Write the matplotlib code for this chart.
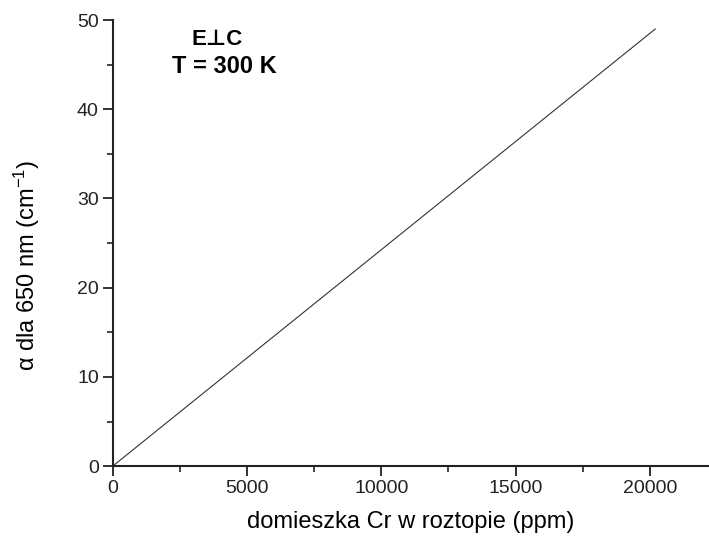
import matplotlib
matplotlib.use("Agg")
import matplotlib.pyplot as plt
from matplotlib.ticker import MultipleLocator

plt.rcParams['font.family'] = ['Liberation Sans', 'DejaVu Sans']
plt.rcParams['mathtext.fontset'] = 'custom'
plt.rcParams['mathtext.rm'] = 'Liberation Sans'
plt.rcParams['mathtext.default'] = 'regular'

# linear dependence: absorption at 650 nm vs Cr content in melt
cr_ppm = [0, 20200]
alpha = [0, 49.0]

xticks = [0, 5000, 10000, 15000, 20000]
yticks = [0, 10, 20, 30, 40, 50]


def main():
    fig = plt.figure(figsize=(7.09, 5.42), dpi=100)
    ax = fig.add_axes([0.159, 0.140, 0.841, 0.823])

    ax.plot(cr_ppm, alpha, color="#333333", lw=0.8)

    ax.set_xlim(0, 22200)
    ax.set_ylim(0, 50)
    ax.set_xticks(xticks)
    ax.set_yticks(yticks)
    ax.xaxis.set_minor_locator(MultipleLocator(2500))
    ax.yaxis.set_minor_locator(MultipleLocator(5))

    for s in ["top", "right"]:
        ax.spines[s].set_visible(False)
    for s in ["left", "bottom"]:
        ax.spines[s].set_linewidth(1.5)
        ax.spines[s].set_color("#222222")

    ax.tick_params(which="major", direction="out", length=7, width=1.3,
                   labelsize=14, colors="#222222", pad=3)
    ax.tick_params(which="minor", direction="out", length=4, width=1.2,
                   colors="#222222")

    ax.set_xlabel("domieszka Cr w roztopie (ppm)", fontsize=17, labelpad=10)
    ax.set_ylabel("α dla 650 nm (cm$^{-1}$)", fontsize=17)
    ax.yaxis.set_label_coords(-0.119, 0.45)

    ax.text(0.175, 0.957, "E⊥C", transform=ax.transAxes, ha="center",
            va="center", fontsize=16, fontweight="bold")
    ax.text(0.187, 0.896, "T = 300 K", transform=ax.transAxes, ha="center",
            va="center", fontsize=17, fontweight="bold")

    fig.savefig("out.png", dpi=100)


if __name__ == "__main__":
    main()
